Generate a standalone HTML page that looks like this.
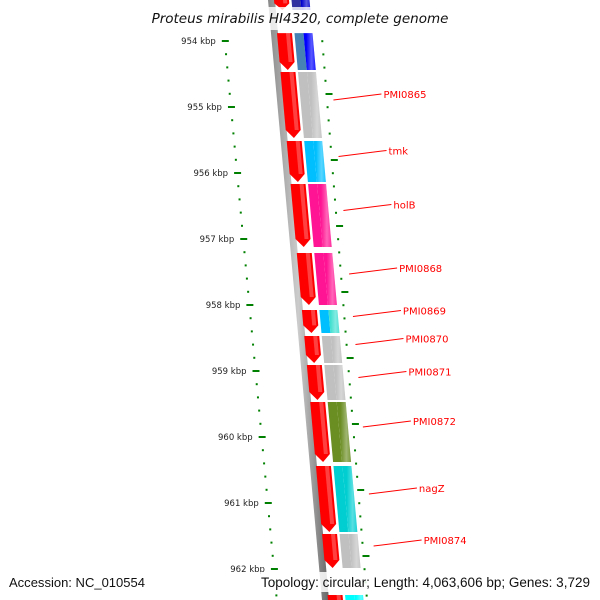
<!DOCTYPE html>
<html><head><meta charset="utf-8"><style>
html,body{margin:0;padding:0;background:#fff;width:600px;height:600px;overflow:hidden;}
svg{display:block;overflow:hidden;font-family:"DejaVu Sans","Liberation Sans",sans-serif;}
</style></head><body>
<svg id="chart" width="600" height="600" viewBox="0 0 600 600">
<defs>
<linearGradient id="shine" x1="0" x2="1" y1="0" y2="0">
<stop offset="0" stop-color="#fff" stop-opacity="0"/>
<stop offset="0.55" stop-color="#fff" stop-opacity="0"/>
<stop offset="0.8" stop-color="#fff" stop-opacity="0.35"/>
<stop offset="1" stop-color="#fff" stop-opacity="0.1"/>
</linearGradient>
<linearGradient id="bb" x1="0" x2="1" y1="0" y2="0">
<stop offset="0" stop-color="#888"/><stop offset="0.5" stop-color="#ccc"/><stop offset="1" stop-color="#666"/>
</linearGradient>
<clipPath id="frame"><rect x="0" y="0" width="600" height="600"/></clipPath>
</defs>
<g id="layer" clip-path="url(#frame)"></g>
</svg>
<script>
// data (positions in kbp)
const geneStart = [953.23, 953.88, 954.47, 955.515, 956.167, 957.212, 958.076, 958.47, 958.909, 959.47, 960.439, 961.47, 962.394];
const geneEnd   = [953.53, 954.439, 955.47, 956.136, 957.121, 958.0, 958.424, 958.879, 959.439, 960.379, 961.439, 961.985, 962.7];
const colorLeft  = ["#3030a0", "#4682b4", "#c0c0c0", "#00bfff", "#ff1493", "#ff1493", "#00bfff", "#c0c0c0", "#c0c0c0", "#6b8e23", "#00ced1", "#c0c0c0", "#00ffff"];
const colorRight = ["#0000cd", "#0000ff", "#c0c0c0", "#00bfff", "#ff1493", "#ff1493", "#40e0d0", "#c0c0c0", "#c0c0c0", "#6b8e23", "#00ced1", "#c0c0c0", "#00ffff"];
const geneNames = ["", "", "PMI0865", "tmk", "holB", "PMI0868", "PMI0869", "PMI0870", "PMI0871", "PMI0872", "nagZ", "PMI0874", ""];
const tickKbp = [954, 955, 956, 957, 958, 959, 960, 961, 962];
const tickLabels = ["954 kbp", "955 kbp", "956 kbp", "957 kbp", "958 kbp", "959 kbp", "960 kbp", "961 kbp", "962 kbp"];

const NS = "http://www.w3.org/2000/svg";
const layer = document.getElementById("layer");
function yS(k){ return 41 + (k - 954) * 66; }
function mk(tag, attrs, parent){
  const e = document.createElementNS(NS, tag);
  for (const a in attrs) e.setAttribute(a, attrs[a]);
  (parent || layer).appendChild(e);
  return e;
}
const S = 0.09;
const bbx = y => 268 + S * y;
let bbLine = mk("polygon", {points: `${bbx(-5)},-5 ${bbx(-5)+7},-5 ${bbx(600)+7},600 ${bbx(600)},600`, fill: "url(#bb)"});



// left kbp scale
for (let i = 0; i < tickKbp.length; i++) {
  const y = yS(tickKbp[i]);
  const x = 218 + 0.093 * y;
  const t = mk("line", {x1: x, y1: y, x2: x + 7, y2: y, stroke: "#008000", "stroke-width": 2});
  
  
  const lb = mk("text", {x: x - 6, y: y + 3, "font-size": 8.5, fill: "#222", "text-anchor": "end"});
  lb.textContent = tickLabels[i];
  
  
  for (let j = 1; j < 5; j++) {
    const yy = yS(tickKbp[i] + j * 0.2);
    if (yy > 600) break;
    const d = mk("rect", {x: 220 + 0.093 * yy, y: yy - 1, width: 2, height: 2, fill: "#008000"});
    
    
  }
}
// right scale
for (let k = 953.2; k < 962.4; k += 0.2) {
  const y = yS(k) + 53;
  const x = 318 + 0.08 * y;
  const r = (k * 5) % 5;
  const major = Math.abs(r) < 0.01 || Math.abs(r - 5) < 0.01;
  const d = mk("rect", {x: x, y: y - 1, width: major ? 7 : 2, height: 2, fill: "#008000"});
  
  
}

// genes
for (let i = 0; i < geneStart.length; i++) {
  const y0 = yS(geneStart[i]), y1 = yS(geneEnd[i]);
  const rx = y => 274 + S * y;
  const tip = Math.min(8, (y1 - y0) / 3);
  const g = mk("g", {});
  
  
  mk("polygon", {points: `${rx(y0)},${y0} ${rx(y0)+15},${y0} ${rx(y1-tip)+15},${y1-tip} ${rx(y1)+7.5},${y1} ${rx(y1-tip)},${y1-tip}`, fill: "#ff0000"}, g);
  mk("polygon", {points: `${rx(y0)+9},${y0} ${rx(y0)+13},${y0} ${rx(y1-tip)+13},${y1-tip} ${rx(y1-tip)+9},${y1-tip}`, fill: "#fff", opacity: 0.25}, g);
  const cx = y => 291.5 + S * y;
  mk("polygon", {points: `${cx(y0)},${y0} ${cx(y0)+9},${y0} ${cx(y1)+9},${y1} ${cx(y1)},${y1}`, fill: colorLeft[i]}, g);
  mk("polygon", {points: `${cx(y0)+9},${y0} ${cx(y0)+18},${y0} ${cx(y1)+18},${y1} ${cx(y1)+9},${y1}`, fill: colorRight[i]}, g);
  mk("polygon", {points: `${cx(y0)},${y0} ${cx(y0)+18},${y0} ${cx(y1)+18},${y1} ${cx(y1)},${y1}`, fill: "url(#shine)"}, g);
  if (geneNames[i]) {
    const ym = (y0 + y1) / 2;
    const lx = 306 + 0.09 * ym + 18;
    const ty = ym - 11;
    const tx = lx + 50;
    mk("line", {x1: lx, y1: ym - 5, x2: tx - 2, y2: ty, stroke: "#ff0000", "stroke-width": 1}, g);
    const t = mk("text", {x: tx, y: ty + 4, "font-size": 10, fill: "#ff0000"}, g);
    t.textContent = geneNames[i];
  }
}

// title & footer
let tb = mk("rect", {x: 147, y: 7, width: 306, height: 23, fill: "#fff", opacity: 0.8});


let title = mk("text", {x: 300, y: 23, "font-size": 13.5, "font-style": "italic", fill: "#111", "text-anchor": "middle"});
title.textContent = "Proteus mirabilis HI4320, complete genome";


let fb = mk("rect", {x: 258, y: 572, width: 342, height: 20, fill: "#fff", opacity: 0.85});


let acc = mk("text", {x: 9, y: 587, "font-size": 13, fill: "#111", "font-family": "Liberation Sans, sans-serif", textLength: 136, lengthAdjust: "spacingAndGlyphs"});
acc.textContent = "Accession: NC_010554";


let topo = mk("text", {x: 261, y: 587, "font-size": 13.5, fill: "#111", "font-family": "Liberation Sans, sans-serif", textLength: 329, lengthAdjust: "spacingAndGlyphs"});
topo.textContent = "Topology: circular; Length: 4,063,606 bp; Genes: 3,729";


</script>
</body></html>
